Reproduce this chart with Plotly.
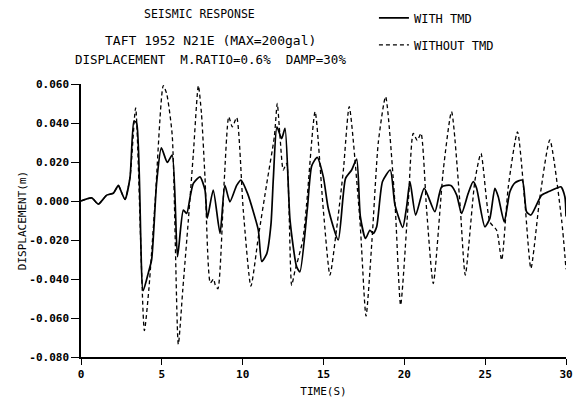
import plotly.graph_objects as go

# ---- data ----
t_with = [0, 0.66, 1.07, 1.59, 2.0, 2.31, 2.45, 2.72, 3.03, 3.28, 3.44, 3.84, 4.16, 4.37,
          4.68, 4.97, 5.34, 5.64, 5.97, 6.33, 6.54, 6.75, 6.95, 7.36, 7.67, 7.81, 8.18,
          8.6, 8.9, 9.21, 9.63, 9.9, 10.3, 10.66, 10.97, 11.18, 11.49, 11.75, 11.9, 12.12,
          12.41, 12.62, 12.93, 13.34, 13.54, 14.0, 14.27, 14.61, 14.99, 15.3, 15.91, 16.36,
          16.74, 17.05, 17.28, 17.6, 17.87, 18.08, 18.29, 18.65, 19.13, 19.42, 19.9, 20.14,
          20.35, 20.7, 21.23, 21.89, 22.31, 22.88, 23.24, 23.54, 23.95, 24.26, 24.47, 24.98,
          25.29, 25.6, 25.81, 26.18, 26.53, 26.84, 27.29, 27.56, 27.83, 28.49, 28.9, 29.15,
          29.68, 29.93, 30.0]
v_with = [0.0, 0.0016, -0.0016, 0.003, 0.004, 0.008, 0.0056, 0.0008, 0.012, 0.041, 0.040,
          -0.046, -0.037, -0.030, 0.0095, 0.0272, 0.0198, 0.0236, -0.0286, -0.0047, -0.0064,
          0.002, 0.009, 0.0124, 0.0056, -0.0089, 0.0056, -0.0166, 0.008, -0.0004, 0.008,
          0.0107, 0.0039, -0.0055, -0.015, -0.031, -0.027, -0.012, 0.012, 0.038, 0.032,
          0.0373, -0.0098, -0.0338, -0.0363, -0.004, 0.018, 0.0224, 0.0124, -0.004, -0.020,
          0.0115, 0.0159, 0.0215, -0.008, -0.0192, -0.015, -0.0166, -0.0132, 0.010, 0.0159,
          -0.002, -0.0135, -0.003, 0.0099, -0.0072, 0.0065, -0.0055, 0.0073, 0.008, 0.003,
          -0.0064, 0.0039, 0.0099, 0.0065, -0.0132, -0.0089, 0.0065, 0.0022, -0.0107, 0.0047,
          0.0093, 0.0107, -0.0055, -0.0072, 0.003, 0.0047, 0.0056, 0.0073, 0.0022, -0.008]

t_without = [0, 0.66, 1.07, 1.59, 2.0, 2.31, 2.45, 2.72, 3.03, 3.38, 3.92, 4.2, 4.58, 5.09,
             5.3, 5.64, 6.02, 6.3, 6.64, 6.95, 7.26, 7.45, 7.67, 8.0, 8.2, 8.3, 8.47, 8.85,
             9.14, 9.36, 9.63, 10.04, 10.51, 10.97, 11.49, 11.96, 12.14, 12.31, 12.51, 12.72,
             13.03, 13.23, 13.72, 13.96, 14.48, 14.99, 15.4, 15.8, 16.23, 16.59, 17.25,
             17.63, 18.0, 18.39, 18.84, 19.42, 19.77, 20.24, 20.55, 20.8, 21.03, 21.38,
             21.79, 22.41, 22.92, 23.44, 23.77, 24.37, 24.74, 25.29, 25.71, 26.02, 26.43,
             27.0, 27.46, 27.83, 28.39, 29.0, 29.73, 30.0]
v_without = [0.0, 0.0016, -0.0016, 0.003, 0.004, 0.008, 0.0056, 0.0008, 0.012, 0.0478,
             -0.0665, -0.045, -0.001, 0.0592, 0.055, 0.034, -0.0735, -0.045, -0.0098, 0.0244,
             0.0592, 0.045, 0.012, -0.042, -0.040, -0.043, -0.045, 0.009, 0.0432, 0.038,
             0.0428, -0.005, -0.0437, -0.0184, 0.009, 0.033, 0.050, 0.033, 0.0159, 0.0193,
             -0.0432, -0.036, -0.020, -0.0012, 0.0458, -0.0047, -0.038, -0.015, 0.0159,
             0.0484, -0.0098, -0.059, -0.020, 0.030, 0.0535, -0.0012, -0.0534, -0.0012,
             0.0347, 0.031, 0.0347, -0.0047, -0.0423, 0.0159, 0.0458, -0.0012, -0.038,
             0.0107, 0.0244, -0.0107, -0.015, -0.0303, 0.0073, 0.0355, -0.0012, -0.0346,
             0.0022, 0.0313, -0.0098, -0.035]

y_tickvals = [0.06, 0.04, 0.02, 0.0, -0.02, -0.04, -0.06, -0.08]
y_ticktext = ['0.060', '0.040', '0.020', '0.000', '-0.020', '-0.040', '-0.060', '-0.080']
x_tickvals = [0, 5, 10, 15, 20, 25, 30]
x_ticktext = ['0', '5', '10', '15', '20', '25', '30']

MONO = "DejaVu Sans Mono"

fig = go.Figure()
fig.add_trace(go.Scatter(x=t_with, y=v_with, mode='lines', name='WITH TMD',
                         line=dict(color='black', width=1.7, shape='spline', smoothing=0.6),
                         legendgroup='a'))
fig.add_trace(go.Scatter(x=t_without, y=v_without, mode='lines', name='WITHOUT TMD',
                         line=dict(color='black', width=1.3, dash='4px,3px',
                                   shape='spline', smoothing=0.6),
                         legendgroup='b'))

fig.update_layout(
    width=574, height=401,
    margin=dict(l=81, r=8, t=84, b=44, autoexpand=False),
    paper_bgcolor='white', plot_bgcolor='white',
    font=dict(family=MONO, color='black', size=11),
    showlegend=True,
    legend=dict(x=0.604, y=1.295, xanchor='left', yanchor='top',
                font=dict(family=MONO, size=12), bgcolor='rgba(0,0,0,0)',
                traceorder='grouped', tracegroupgap=8, itemwidth=30),
    xaxis=dict(range=[0, 30], tickvals=x_tickvals, ticktext=x_ticktext,
               ticks='outside', ticklen=6, tickwidth=1.3, tickcolor='black',
               showline=True, linecolor='black', linewidth=1.5, showgrid=False,
               zeroline=False, automargin=False, ticklabeloverflow='allow',
               tickfont=dict(family=MONO, size=11, weight='bold'),
               title=dict(text='TIME(S)', standoff=7, font=dict(family=MONO, size=11))),
    yaxis=dict(range=[-0.08, 0.06], tickvals=y_tickvals, ticktext=y_ticktext,
               ticks='outside', ticklen=8, tickwidth=1.3, tickcolor='black',
               showline=True, linecolor='black', linewidth=1.5, showgrid=False,
               zeroline=False, automargin=False, ticklabeloverflow='allow',
               tickfont=dict(family=MONO, size=11, weight='bold'),
               title=dict(text='DISPLACEMENT(m)', standoff=0, font=dict(family=MONO, size=11))),
)

titles = [("SEISMIC RESPONSE", 1.258, 11.5, 0.245),
          ("TAFT 1952 N21E (MAX=200gal)", 1.16, 13, 0.268),
          ("DISPLACEMENT  M.RATIO=0.6%  DAMP=30%", 1.09, 12.5, 0.266)]
for txt, yy, sz, xx in titles:
    fig.add_annotation(text=txt, xref='paper', yref='paper', x=xx, y=yy,
                       showarrow=False, xanchor='center', yanchor='middle',
                       font=dict(family=MONO, size=sz, color='black'))

fig.write_html("out.html", config={'displayModeBar': False},
               post_script="document.body.style.margin='0px';document.body.style.padding='0px';")
